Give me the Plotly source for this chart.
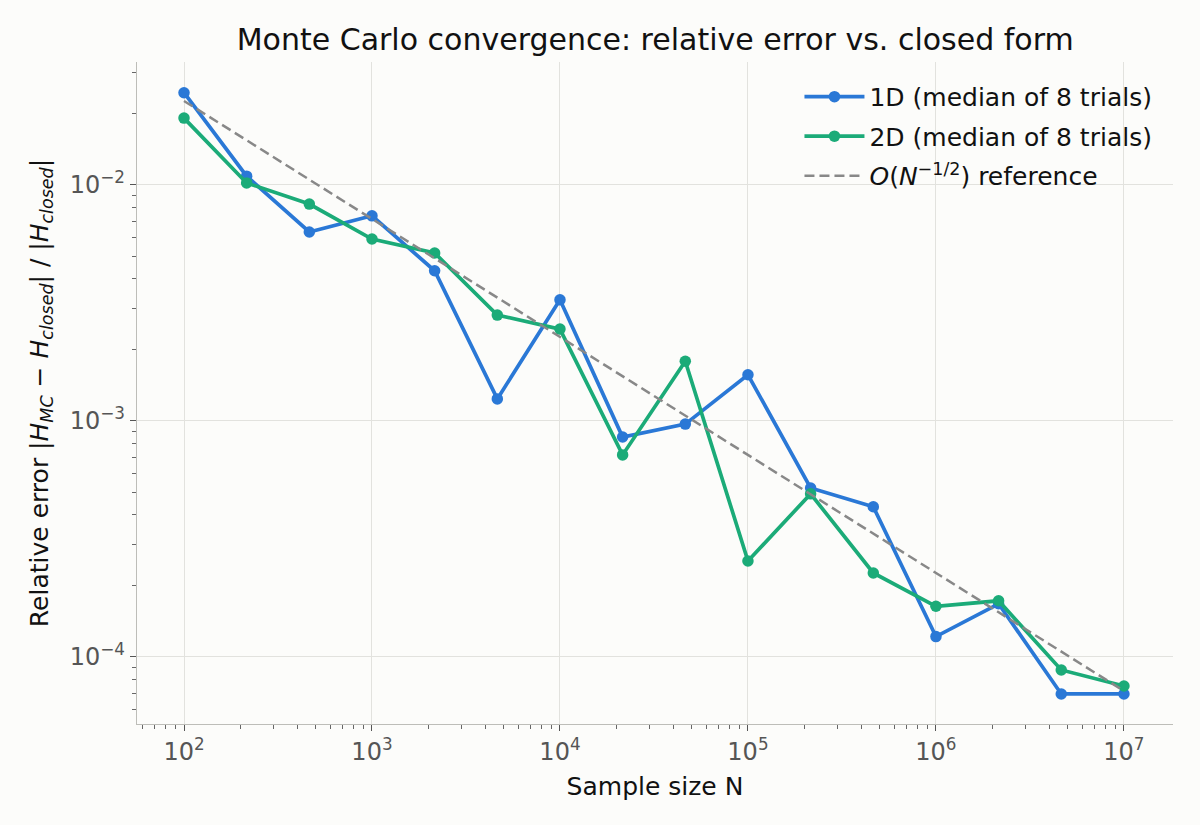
import plotly.graph_objects as go

N = [1e2, 2.154e2, 4.642e2, 1e3, 2.154e3, 4.642e3, 1e4, 2.154e4, 4.642e4,
     1e5, 2.154e5, 4.642e5, 1e6, 2.154e6, 4.642e6, 1e7]
err_1d = [0.0246, 0.0109, 0.00632, 0.0074, 0.00433, 0.00124, 0.00326, 0.000855,
          0.00097, 0.00157, 0.00052, 0.000433, 0.000122, 0.000168, 0.0000697, 0.0000697]
err_2d = [0.0192, 0.0102, 0.0083, 0.0059, 0.00515, 0.00281, 0.00245, 0.000718,
          0.00179, 0.000255, 0.000491, 0.000227, 0.000164, 0.000173, 0.0000881, 0.0000753]
ref_N = [1e2, 1e7]
ref_err = [0.0227, 0.0000718]

x_tickvals = [1e2, 1e3, 1e4, 1e5, 1e6, 1e7]
x_ticktext = ["10<sup>2</sup>", "10<sup>3</sup>", "10<sup>4</sup>", "10<sup>5</sup>",
              "10<sup>6</sup>", "10<sup>7</sup>"]
y_tickvals = [1e-4, 1e-3, 1e-2]
y_ticktext = ["10<sup>−4</sup>", "10<sup>−3</sup>", "10<sup>−2</sup>"]

x_minor = [m * 10 ** k for k in range(1, 8) for m in range(2, 10)]
y_minor = [m * 10 ** k for k in range(-5, -1) for m in range(2, 10)]

BLUE = "#2a78d6"
GREEN = "#1bab78"
FONT = "DejaVu Sans"

fig = go.Figure()
fig.add_trace(go.Scatter(x=N, y=err_1d, mode="lines+markers", name="1D (median of 8 trials)",
                         line=dict(color=BLUE, width=3.7), marker=dict(size=11.5, color=BLUE),
                         legendgroup="a"))
fig.add_trace(go.Scatter(x=N, y=err_2d, mode="lines+markers", name="2D (median of 8 trials)",
                         line=dict(color=GREEN, width=3.7), marker=dict(size=11.5, color=GREEN),
                         legendgroup="b"))
fig.add_trace(go.Scatter(x=ref_N, y=ref_err, mode="lines",
                         name="<i>O</i>(<i>N</i><sup>−1/2</sup>) reference",
                         line=dict(color="#888888", width=2.5, dash="10px,5px"),
                         legendgroup="c"))

axis_common = dict(
    type="log", showline=True, linecolor="#bdbdb8", linewidth=1.3,
    showgrid=True, gridcolor="#e2e2de", gridwidth=1.3,
    ticks="outside", ticklen=6, tickcolor="#555555", tickwidth=1.2,
    tickfont=dict(family=FONT, size=24, color="#555555"),
    zeroline=False, mirror=False,
)

fig.update_xaxes(**axis_common, range=[1.75, 7.261], tickvals=x_tickvals, ticktext=x_ticktext,
                 minor=dict(tickvals=x_minor, ticks="outside", ticklen=3.5, tickcolor="#666666",
                            showgrid=False),
                 title=dict(text="Sample size N", font=dict(family=FONT, size=25, color="#111111"),
                            standoff=12))
fig.update_yaxes(**axis_common, range=[-4.284, -1.479], tickvals=y_tickvals, ticktext=y_ticktext,
                 minor=dict(tickvals=y_minor, ticks="outside", ticklen=3.5, tickcolor="#666666",
                            showgrid=False),
                 title=dict(text="Relative error |<i>H</i><sub><i>MC</i></sub> − <i>H</i><sub><i>closed</i></sub>| / |<i>H</i><sub><i>closed</i></sub>|",
                            font=dict(family=FONT, size=25, color="#111111"), standoff=14))

fig.update_layout(
    width=1200, height=825,
    paper_bgcolor="#fcfcfa", plot_bgcolor="#fcfcfa",
    margin=dict(l=137, r=27, t=62, b=101),
    title=dict(text="Monte Carlo convergence: relative error vs. closed form",
               font=dict(family=FONT, size=30, color="#111111"),
               x=0.546, xanchor="center", y=0.952, yanchor="middle"),
    font=dict(family=FONT),
    legend=dict(x=0.985, y=0.982, xanchor="right", yanchor="top",
                bgcolor="rgba(0,0,0,0)", font=dict(family=FONT, size=25, color="#111111"),
                tracegroupgap=4, itemwidth=60),
    showlegend=True,
)

fig.write_html("out.html")
